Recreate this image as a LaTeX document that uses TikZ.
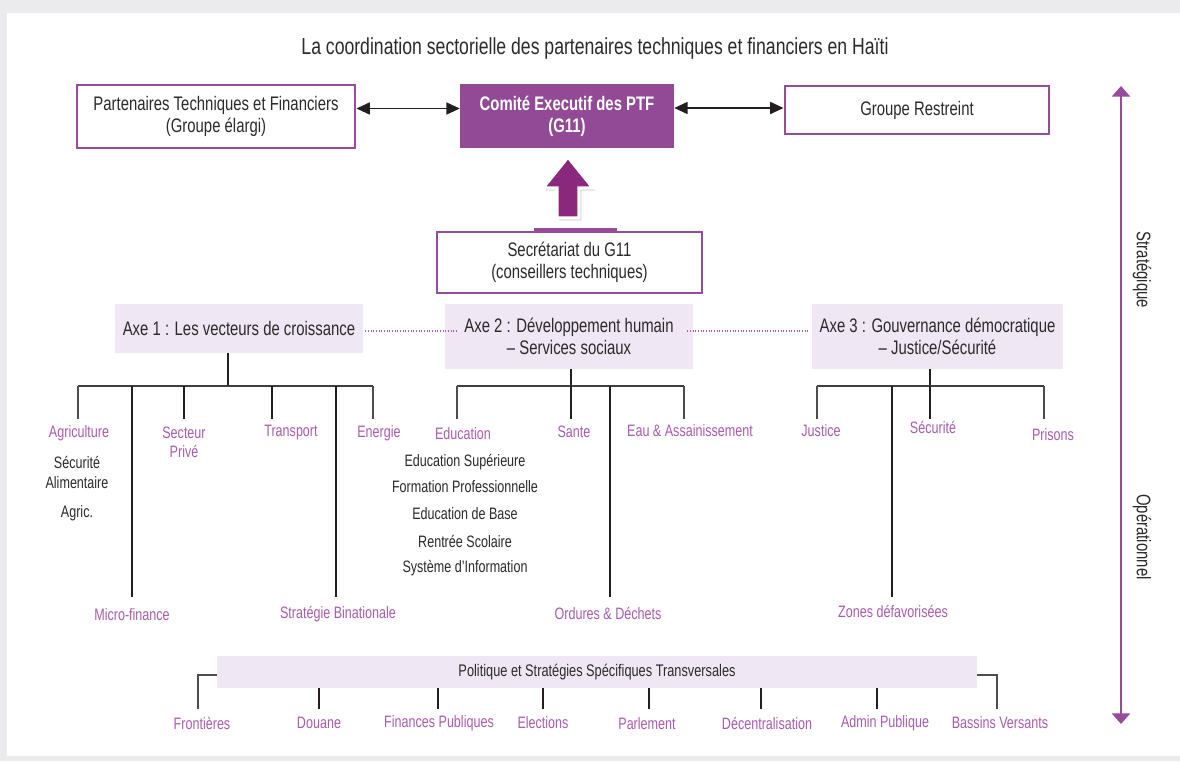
\documentclass[tikz,border=0pt]{standalone}
\usepackage{fontspec}
\setmainfont{Liberation Sans}[FakeStretch=0.76]
\usetikzlibrary{arrows.meta,shadows,calc}
\definecolor{bgr}{HTML}{EBEBEE}
\definecolor{pbord}{HTML}{964B9B}
\definecolor{pfill}{HTML}{924A97}
\definecolor{plab}{HTML}{A95CAD}
\definecolor{parrow}{HTML}{8A287D}
\definecolor{lav}{HTML}{EFE7F3}
\definecolor{dtext}{HTML}{2B2B2B}
\definecolor{lblack}{HTML}{231F20}
\definecolor{lgray}{HTML}{4D4D4D}
\newcommand\myTitle{\fontsize{17.4}{20}\selectfont}
\newcommand\myBig{\fontsize{14.7}{16.5}\selectfont}
\newcommand\mySmall{\fontsize{12.4}{14.3}\selectfont}
\tikzset{
  pbox/.style={draw=pbord, line width=2.2pt, fill=white, text=dtext, align=center, font=\myBig, inner sep=0pt},
  cbox/.style={fill=pfill, text=white, align=center, font=\myBig\bfseries, inner sep=0pt},
  lavbox/.style={fill=lav, text=dtext, align=center, font=\myBig, inner sep=0pt},
  leaf/.style={text=plab, font=\mySmall, align=center, inner sep=0pt},
  subl/.style={text=dtext, font=\mySmall, align=center, inner sep=0pt},
  thk/.style={draw=lblack, line width=1.8pt},
  thn/.style={draw=lgray, line width=1.1pt},
  barl/.style={draw=lgray!80!black, line width=1.2pt},
  dotl/.style={draw=plab, line width=1pt, dash pattern=on 0.9pt off 1.1pt},
  harrow/.style={draw=lblack, line width=1.2pt, {Triangle[length=10pt,width=9pt]}-{Triangle[length=10pt,width=9pt]}},
}
\begin{document}
\begin{tikzpicture}[x=0.75pt,y=-0.75pt]
\fill[bgr] (0,0) rectangle (1180,761);
\fill[white] (7,13) rectangle (1180,756);
\useasboundingbox (0,0) rectangle (1180,761);

% title
\node[text=dtext, font=\myTitle, inner sep=0pt] (title) at (595,48) {La coordination sectorielle des partenaires techniques et financiers en Haïti};

% top row
\node[pbox, minimum width=208.5pt, minimum height=47.25pt] (ptf) at (216,116.5) {Partenaires Techniques et Financiers\\(Groupe élargi)};
\node[cbox, minimum width=160.5pt, minimum height=48pt] (com) at (567,116) {Comité Executif des PTF\\(G11)};
\node[pbox, minimum width=198pt, minimum height=36pt] (gr) at (917,110) {Groupe Restreint};
\coordinate (a1) at ([yshift=6pt]ptf.east);
\coordinate (a2) at ([yshift=6pt]com.east);
\draw[harrow] (a1) -- (a1 -| com.west);
\draw[harrow] (a2) -- (a2 -| gr.west);

% secretariat
\node[pbox, minimum width=198.75pt, minimum height=45.75pt] (sec) at (569.5,262.5) {Secrétariat du G11\\(conseillers techniques)};
\draw[pbord, line width=3.4pt] ([xshift=-26.6pt]sec.north) -- ([xshift=35.6pt]sec.north);

% big arrow
\path[draw=white, line width=2.4pt, fill=parrow, line join=miter,
  drop shadow={opacity=0.45, shadow xshift=1.8pt, shadow yshift=-1.8pt}]
  (568,157) -- (593,188) -- (579,188) -- (579,218) -- (557,218) -- (557,188) -- (543,188) -- cycle;

% axes
\node[lavbox, minimum width=186pt, minimum height=36.75pt] (axe1) at (239,328.5) {Axe 1 : Les vecteurs de croissance};
\node[lavbox, minimum width=186pt, minimum height=48.75pt] (axe2) at (569,336.5) {Axe 2 : Développement humain\\– Services sociaux};
\node[lavbox, minimum width=188.25pt, minimum height=48.75pt] (axe3) at (937.5,336.5) {Axe 3 : Gouvernance démocratique\\– Justice/Sécurité};
\draw[dotl] ([xshift=1.5pt,yshift=-1.9pt]axe1.east) -- ([xshift=9pt,yshift=4.1pt]axe2.west);
\draw[dotl] ([xshift=-4.5pt,yshift=4.1pt]axe2.east) -- ([xshift=-2.2pt,yshift=4.1pt]axe3.west);

% ---- tree axe 1
\coordinate (b1) at (228,386);
\draw[thk] ([xshift=-8.25pt]axe1.south) -- (b1);
\coordinate (b1l) at (78,386);
\coordinate (b1r) at (373,386);
\draw[barl] (b1l) -- (b1r);
\coordinate (dagr) at (78,419);
\coordinate (dmf) at (132,597);
\coordinate (dsp) at (184,419);
\coordinate (dtr) at (272,419);
\coordinate (dsb) at (336,597);
\coordinate (den) at (373,419);
\draw[thn] (b1l) -- (dagr);
\draw[thn] (b1r) -- (den);
\draw[thk] (dmf |- b1) -- (dmf);
\draw[thk] (dsp |- b1) -- (dsp);
\draw[thk] (dtr |- b1) -- (dtr);
\draw[thk] (dsb |- b1) -- (dsb);

\node[leaf] (agr) at (79,433) {Agriculture};
\node[subl] (seca) at (77,462) {Sécurité};
\node[subl] (alim) at (77,483) {Alimentaire};
\node[subl] (agric) at (77,513) {Agric.};
\node[leaf] (secp) at (184,442.5) {Secteur\\Privé};
\node[leaf] (trans) at (291,433) {Transport};
\node[leaf] (ener) at (379,433) {Energie};
\node[leaf] (mf) at (132,615) {Micro-finance};
\node[leaf] (sbin) at (338,614) {Stratégie Binationale};

% ---- tree axe 2
\coordinate (b2) at (571,386);
\draw[thk] (axe2.south -| b2) -- (b2);
\coordinate (b2l) at (457,386);
\coordinate (b2r) at (684,386);
\draw[barl] (b2l) -- (b2r);
\coordinate (ded) at (457,419);
\coordinate (dsa) at (571,419);
\coordinate (dor) at (610,597);
\coordinate (dea) at (684,419);
\draw[thn] (b2l) -- (ded);
\draw[thn] (b2r) -- (dea);
\draw[thk] (b2) -- (dsa);
\draw[thk] (dor |- b2) -- (dor);

\node[leaf] (edu) at (463,434) {Education};
\node[leaf] (sante) at (574,432) {Sante};
\node[leaf] (eau) at (690,431) {Eau \& Assainissement};
\node[subl] (es) at (465,462) {Education Supérieure};
\node[subl] (fp) at (465,487) {Formation Professionnelle};
\node[subl] (eb) at (465,514) {Education de Base};
\node[subl] (rs) at (465,541) {Rentrée Scolaire};
\node[subl] (si) at (465,568) {Système d’Information};
\node[leaf] (ord) at (608,613) {Ordures \& Déchets};

% ---- tree axe 3
\coordinate (b3) at (930,386);
\draw[thk] (axe3.south -| b3) -- (b3);
\coordinate (b3l) at (817,386);
\coordinate (b3r) at (1044,386);
\draw[barl] (b3l) -- (b3r);
\coordinate (dju) at (817,419);
\coordinate (dzo) at (892,597);
\coordinate (dse) at (930,419);
\coordinate (dpr) at (1044,419);
\draw[thn] (b3l) -- (dju);
\draw[thn] (b3r) -- (dpr);
\draw[thk] (b3) -- (dse);
\draw[thk] (dzo |- b3) -- (dzo);

\node[leaf] (jus) at (821,431) {Justice};
\node[leaf] (secu) at (933,427) {Sécurité};
\node[leaf] (pris) at (1053,435) {Prisons};
\node[leaf] (zones) at (893,611) {Zones défavorisées};

% ---- bottom
\node[lavbox, font=\fontsize{12.6}{14}\selectfont, minimum width=570pt, minimum height=24pt] (pol) at (597,672) {Politique et Stratégies Spécifiques Transversales};
\coordinate (pl) at ([yshift=-2.25pt]pol.west);
\coordinate (pr) at ([yshift=-2.25pt]pol.east);
\coordinate (fl) at (198,709);
\coordinate (fr) at (997,709);
\draw[thn] (pl) -| (fl);
\draw[thn] (pr) -| (fr);
\foreach \n/\x in {dd/319, dfp/438, del/543, dpa/649, dde/761, dad/877}{
  \coordinate (\n) at (\x,709);
  \draw[thk] (\n |- pol.south) -- (\n);
}
\node[leaf] (front) at (202,723) {Frontières};
\node[leaf] (douane) at (319,723) {Douane};
\node[leaf] (finp) at (439,723) {Finances Publiques};
\node[leaf] (elec) at (543,723) {Elections};
\node[leaf] (parl) at (647,724) {Parlement};
\node[leaf] (decen) at (767,723) {Décentralisation};
\node[leaf] (admin) at (885,723) {Admin Publique};
\node[leaf] (bass) at (1000,723) {Bassins Versants};

% ---- right axis
\coordinate (axT) at (1121,86);
\coordinate (axB) at (1121,724);
\draw[draw=pbord, line width=2.2pt, {Triangle[length=8pt,width=13.5pt]}-{Triangle[length=8pt,width=13.5pt]}] (axT) -- (axB);
\node[text=dtext, font=\myBig, rotate=-90, inner sep=0pt] (strat) at (1142,270) {Stratégique};
\node[text=dtext, font=\myBig, rotate=-90, inner sep=0pt] (oper) at (1142,537) {Opérationnel};
\end{tikzpicture}
\end{document}
